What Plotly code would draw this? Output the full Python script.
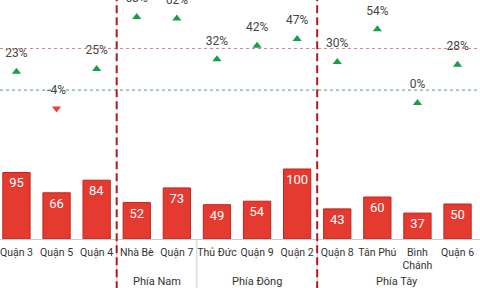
import plotly.graph_objects as go

# ---- data ----
groups = ["", "", "", "Phía Nam", "Phía Nam", "Phía Đông", "Phía Đông", "Phía Đông",
          "Phía Tây", "Phía Tây", "Phía Tây", "Phía Tây"]
districts = ["Quận 3", "Quận 5", "Quận 4", "Nhà Bè", "Quận 7", "Thủ Đức", "Quận 9", "Quận 2",
             "Quận 8", "Tân Phú", "Bình<br>Chánh", "Quận 6"]
prices = [95, 66, 84, 52, 73, 49, 54, 100, 43, 60, 37, 50]
growth = [23, -4, 25, 63, 62, 32, 42, 47, 30, 54, 0, 28]
ref_levels = [40, 9.5]
split_after = ["Quận 4", "Quận 2"]

FONT = "Roboto"
x = districts

fig = go.Figure()

fig.add_trace(go.Bar(
    x=x, y=prices, text=prices, texttemplate="%{text}",
    textposition="inside", insidetextanchor="end", constraintext="none",
    textangle=0,
    textfont=dict(family=FONT, size=13, color="white"),
    marker=dict(color="#e53a30", line=dict(color="#c0241c", width=1)),
    yaxis="y", showlegend=False, hoverinfo="skip",
))

fig.add_trace(go.Scatter(
    x=x, y=growth, mode="markers",
    marker=dict(
        symbol=["triangle-down" if g < 0 else "triangle-up" for g in growth],
        color=["#e0453a" if g < 0 else "#1a9e4b" for g in growth],
        size=8,
    ),
    yaxis="y2", showlegend=False, hoverinfo="skip",
))

fig.add_trace(go.Scatter(
    x=x, y=growth, mode="text+markers",
    text=[f"{g}%" for g in growth], textposition="top center",
    textfont=dict(family=FONT, size=12, color="#444"),
    marker=dict(size=17, color="rgba(0,0,0,0)"),
    yaxis="y2", showlegend=False, hoverinfo="skip",
))

shapes = []
annotations = []
# horizontal reference levels
for lvl, col in zip(ref_levels, ["#e57a7a", "#4f9c84"]):
    shapes.append(dict(type="line", xref="paper", x0=0, x1=1, yref="y2", y0=lvl, y1=lvl,
                       line=dict(color=col, width=1, dash="dot")))
# gray group dividers (below the axis) at every group change
for i in range(1, len(groups)):
    if groups[i] != groups[i - 1]:
        shapes.append(dict(type="line", xref="x", x0=i - 0.5, x1=i - 0.5,
                           yref="paper", y0=0, y1=-0.21,
                           line=dict(color="#cccccc", width=1)))
# red dashed separators
for name in split_after:
    xi = districts.index(name) + 0.5
    shapes.append(dict(type="line", xref="x", x0=xi, x1=xi, yref="paper", y0=-0.21, y1=1,
                       line=dict(color="#b31b1b", width=2, dash="8px,4px")))
# group labels centred under their districts
for g in dict.fromkeys(groups):
    if not g:
        continue
    idx = [i for i, gg in enumerate(groups) if gg == g]
    annotations.append(dict(x=sum(idx) / len(idx), xref="x", y=-0.176, yref="paper",
                            text=g, showarrow=False, yanchor="middle",
                            font=dict(family=FONT, size=11, color="#333")))

fig.update_layout(
    width=480, height=288,
    margin=dict(l=0, r=0, t=0, b=49),
    plot_bgcolor="white", paper_bgcolor="white",
    bargap=0.32,
    shapes=shapes,
    annotations=annotations,
    xaxis=dict(
        type="category", range=[-0.41, 11.56], automargin=False,
        tickangle=0, ticklabelstandoff=3,
        showline=True, linecolor="#cccccc", linewidth=1,
        tickfont=dict(family=FONT, size=10.5, color="#333"),
        ticks="", showgrid=False,
    ),
    yaxis=dict(range=[0, 341.4], visible=False, showgrid=False, zeroline=False),
    yaxis2=dict(range=[-99.6, 75.5], overlaying="y", visible=False,
                showgrid=False, zeroline=False),
)

fig.write_html("out.html")
